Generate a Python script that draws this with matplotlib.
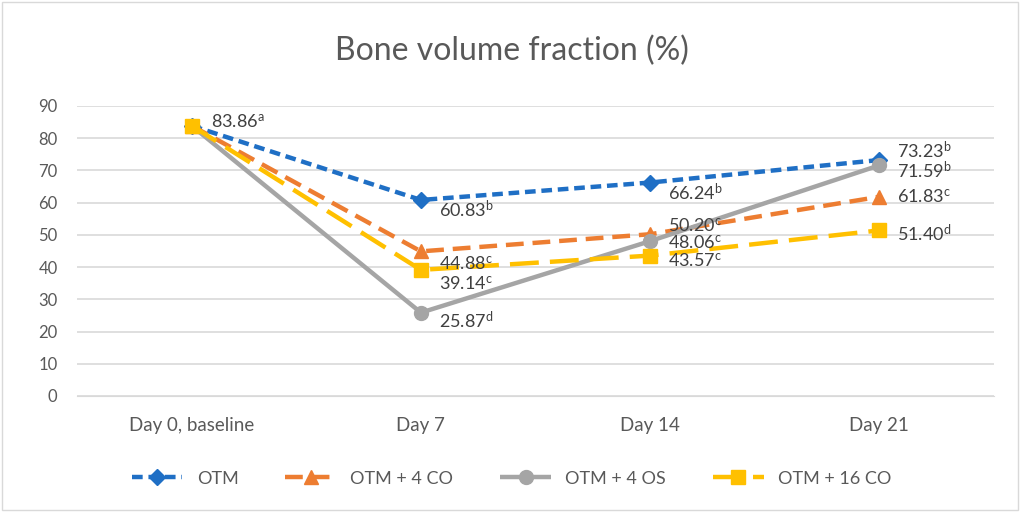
import matplotlib
matplotlib.use("Agg")
import matplotlib.pyplot as plt
from matplotlib.patches import Rectangle

plt.rcParams['font.family'] = ['Lato', 'DejaVu Sans']
plt.rcParams['mathtext.default'] = 'regular'

days = ['Day 0, baseline', 'Day 7', 'Day 14', 'Day 21']
series_names = ['OTM', 'OTM + 4 CO', 'OTM + 4 OS', 'OTM + 16 CO']
otm = [83.86, 60.83, 66.24, 73.23]
otm_4co = [83.86, 44.88, 50.20, 61.83]
otm_4os = [83.86, 25.87, 48.06, 71.59]
otm_16co = [83.86, 39.14, 43.57, 51.40]
letters_otm = ['a', 'b', 'b', 'b']
letters_4co = ['', 'c', 'c', 'c']
letters_4os = ['', 'd', 'c', 'b']
letters_16co = ['', 'c', 'c', 'd']

colors = ['#1F6FC5', '#ED7D31', '#A5A5A5', '#FFC000']
markers = ['D', '^', 'o', 's']
msizes = [8, 10, 10, 10]
dashes = [(2.4, 1.3), (4.0, 2.0), None, (6.5, 2.5)]
# label offsets in points (dx, dy) per series per day
offsets = [
    [(14, 3), (13, -7), (13, -7), (13, 7)],
    [None, (13, -9), (13, 6), (13, 0)],
    [None, (13, -6), (13, -1), (13, -4)],
    [None, (13, -10), (13, -4), (13, -2)],
]

fig = plt.figure(figsize=(10.23, 5.12), dpi=100)
ax = fig.add_axes([0.0753, 0.2266, 0.8964, 0.5664])
fig.patches.append(Rectangle((0.002, 0.004), 0.993, 0.992, transform=fig.transFigure,
                             fill=False, edgecolor='#D9D9D9', linewidth=1))

x = list(range(len(days)))
all_vals = [otm, otm_4co, otm_4os, otm_16co]
all_letters = [letters_otm, letters_4co, letters_4os, letters_16co]
handles = []
for i, vals in enumerate(all_vals):
    line, = ax.plot(x, vals, color=colors[i], linewidth=3.2, marker=markers[i],
                    markersize=msizes[i], label=series_names[i], zorder=3 + i,
                    solid_capstyle='butt', dash_capstyle='butt')
    if dashes[i] is not None:
        line.set_dashes(dashes[i])
    handles.append(line)
    for j, v in enumerate(vals):
        if offsets[i][j] is None:
            continue
        dx, dy = offsets[i][j]
        ax.annotate(f'{v:.2f}$^{{{all_letters[i][j]}}}$', (j, v), xytext=(dx, dy),
                    textcoords='offset points', ha='left', va='center',
                    fontsize=13, color='#404040', zorder=10)

ax.set_xlim(-0.5, 3.5)
ax.set_ylim(0, 90)
ax.set_yticks(range(0, 91, 10))
ax.set_xticks(x)
ax.set_xticklabels(days)
ax.yaxis.grid(True, color='#D9D9D9', linewidth=1.2)
ax.set_axisbelow(True)
for s in ['top', 'right', 'left']:
    ax.spines[s].set_visible(False)
ax.spines['bottom'].set_color('#D9D9D9')
ax.tick_params(axis='y', length=0, labelsize=12, labelcolor='#595959', pad=14)
ax.tick_params(axis='x', length=0, labelsize=13.5, labelcolor='#595959', pad=15)

fig.text(0.5, 0.9, 'Bone volume fraction (%)', ha='center', va='center',
         fontsize=23, color='#595959')

fig.legend(handles=handles, loc='center', bbox_to_anchor=(0.5, 0.065), ncol=4,
           frameon=False, fontsize=13, handlelength=2.8, columnspacing=2.6,
           labelcolor='#595959')

fig.savefig('out.png', dpi=100)
